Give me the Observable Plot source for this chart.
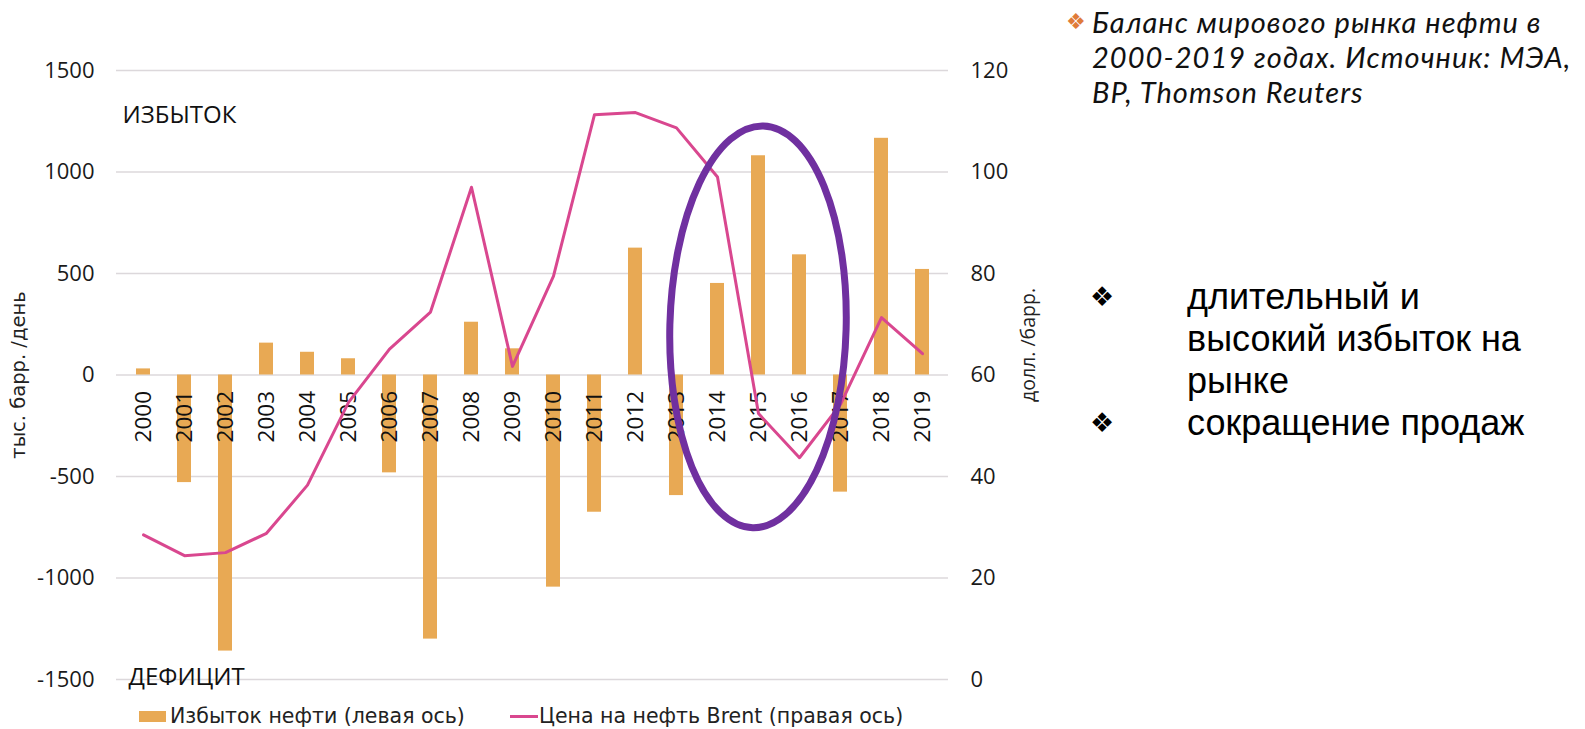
<!DOCTYPE html>
<html><head><meta charset="utf-8">
<script src="https://cdn.jsdelivr.net/npm/d3@7"></script>
<script src="https://cdn.jsdelivr.net/npm/@observablehq/plot@0.6"></script>
<style>
body{margin:0;background:#fff;width:1585px;height:729px;overflow:hidden;position:relative;font-family:"Open Sans",sans-serif;color:#111;}
#chart{position:absolute;left:0;top:0;}
.lt{position:absolute;top:703px;line-height:26px;font-family:"DejaVu Sans",sans-serif;font-size:20.5px;color:#222;white-space:nowrap;}
.sw{position:absolute;}
#n1b{position:absolute;left:1066px;top:4px;line-height:35px;font-family:"DejaVu Sans";font-size:22px;color:#E07B39;}
#n1{position:absolute;left:1092px;top:4px;line-height:35px;font-family:Lato,"Open Sans",sans-serif;font-style:italic;font-size:29px;letter-spacing:1.05px;color:#111;white-space:nowrap;}
#n2{position:absolute;left:1090px;top:276px;line-height:42px;font-family:"Liberation Sans",Arial,sans-serif;font-size:36px;color:#000;white-space:nowrap;}
#n2 .b{display:inline-block;width:97px;font-family:"DejaVu Sans";font-size:27px;vertical-align:top;}
#n2 .t{display:inline-block;vertical-align:top;}
</style></head><body>
<div id="chart"></div>
<div class="sw" style="left:139px;top:711px;width:27px;height:11px;background:#E8A954"></div>
<div class="lt" style="left:170px">Избыток нефти (левая ось)</div>
<div class="sw" style="left:510px;top:715px;width:28px;height:3px;background:#D9478F"></div>
<div class="lt" style="left:539px">Цена на нефть Brent (правая ось)</div>
<div id="n1b">❖</div>
<div id="n1">Баланс мирового рынка нефти в<br>2000-2019 годах. Источник: МЭА,<br>BP, Thomson Reuters</div>
<div id="n2"><div><span class="b">❖</span><span class="t">длительный и<br>высокий избыток на<br>рынке</span></div><div><span class="b">❖</span><span class="t">сокращение продаж</span></div></div>
<script>
const years = ["2000","2001","2002","2003","2004","2005","2006","2007","2008","2009","2010","2011","2012","2013","2014","2015","2016","2017","2018","2019"];
const surplus = [30,-530,-1360,157,112,80,-482,-1301,260,129,-1045,-676,625,-594,451,1080,592,-577,1166,520];
const brent = [28.5,24.4,25.0,28.8,38.3,54.6,65.1,72.4,97.0,61.7,79.5,111.3,111.7,108.7,99.0,52.4,43.7,54.2,71.3,64.2];
const leftTicks = [-1500,-1000,-500,0,500,1000,1500];
const rightTicks = [0,20,40,60,80,100,120];
const leftDomain = [-1500,1500];
const rightDomain = [0,120];
// highlight ellipse (annotation) in data units
const ellipseYear = "2015";
const ellipseCenter = 235;
const ellipseHalfWidthBands = 2.15;
const ellipseHalfHeight = 990;

const toLeft = p => leftDomain[0] + (p - rightDomain[0]) * (leftDomain[1]-leftDomain[0])/(rightDomain[1]-rightDomain[0]);
const fromLeft = v => rightDomain[0] + (v - leftDomain[0]) * (rightDomain[1]-rightDomain[0])/(leftDomain[1]-leftDomain[0]);
const data = years.map((year,i)=>({year, surplus: surplus[i], brent: brent[i]}));

const W = 1060, H = 700;
const plot = Plot.plot({
  width: W, height: H,
  marginLeft:116, marginRight: W-948, marginTop:70, marginBottom: H-679,
  style:{fontFamily:'"Open Sans", sans-serif', fontSize:"21px", color:"#1a1a1a", background:"transparent", overflow:"visible"},
  x:{type:"band", domain: years, paddingInner:0.67, paddingOuter:0.335, axis:null},
  y:{domain:leftDomain, axis:null},
  marks:[
    Plot.gridY(leftTicks,{stroke:"#dcd8db", strokeOpacity:1, strokeWidth:1.3}),
    Plot.axisY(leftTicks,{anchor:"left", tickSize:0, tickPadding:22, tickFormat:d=>String(d), fontSize:22, label:null}),
    Plot.axisY(rightTicks.map(toLeft),{anchor:"right", tickSize:0, tickPadding:22, tickFormat:v=>String(Math.round(fromLeft(v))), fontSize:22, label:null}),
    Plot.barY(data,{x:"year", y:"surplus", fill:"#E8A954"}),
    Plot.text(data,{x:"year", y:()=>0, text:"year", rotate:-90, textAnchor:"end", dy:16, fontSize:22.5, fill:"#111"}),
    Plot.line(data,{x:"year", y:d=>toLeft(d.brent), stroke:"#D9478F", strokeWidth:3}),
    Plot.text(["ИЗБЫТОК"],{frameAnchor:"top-left", dx:6, dy:35, fontSize:24, fill:"#111"}),
    Plot.text(["ДЕФИЦИТ"],{frameAnchor:"top-left", dx:12, dy:597, fontSize:24, fill:"#111"}),
    Plot.text(["тыс. барр. /день"],{frameAnchor:"left", dx:-98, rotate:-90, textAnchor:"middle", fontFamily:"DejaVu Sans", fontSize:19.5, fill:"#222"}),
    Plot.text(["долл. /барр."],{frameAnchor:"right", dx:80, dy:-30, rotate:-90, textAnchor:"middle", fontSize:19.5, fill:"#222"})
  ]
});
document.getElementById("chart").appendChild(plot);

const sx = plot.scale("x"), sy = plot.scale("y");
const cx = sx.apply(ellipseYear) + sx.bandwidth/2;
const cy = sy.apply(ellipseCenter);
const rx = ellipseHalfWidthBands * sx.step;
const ry = Math.abs(sy.apply(ellipseCenter + ellipseHalfHeight) - cy);
d3.select(plot).append("ellipse")
  .attr("cx", cx).attr("cy", cy).attr("rx", rx).attr("ry", ry)
  .attr("transform", `rotate(1.5 ${cx} ${cy})`)
  .attr("fill", "none").attr("stroke", "#7030A0").attr("stroke-width", 7);
</script>
</body></html>
